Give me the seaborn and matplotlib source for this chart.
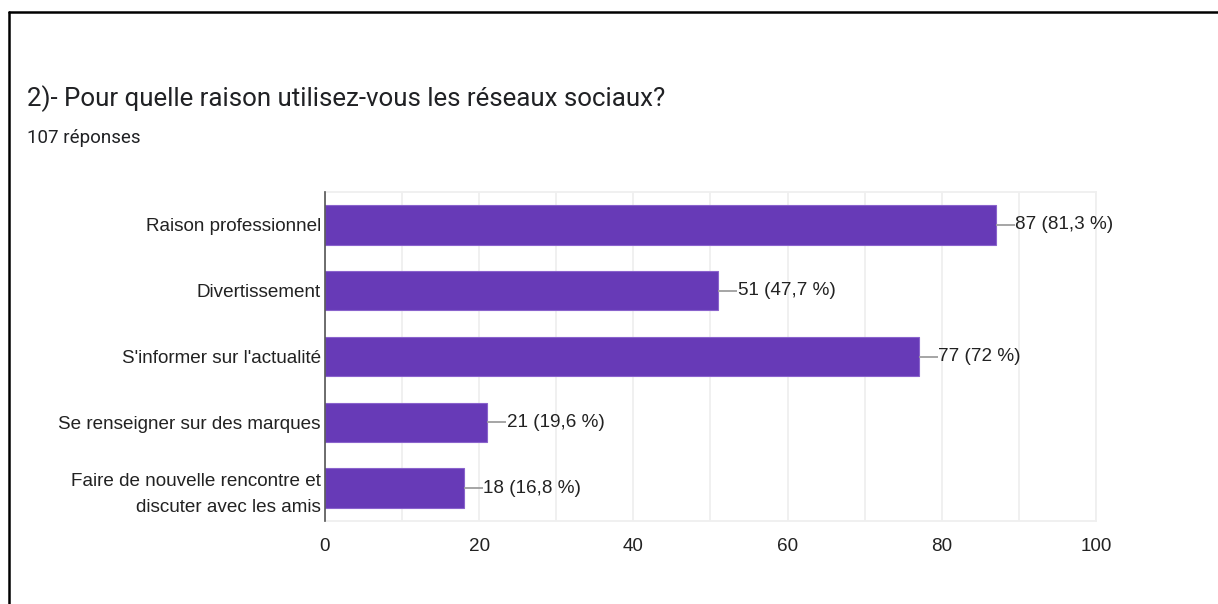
import matplotlib
matplotlib.use("Agg")
import matplotlib.pyplot as plt
from matplotlib.lines import Line2D
from matplotlib.ticker import MultipleLocator
import pandas as pd
import seaborn as sns

# Survey answers: "2)- Pour quelle raison utilisez-vous les réseaux sociaux?"
categories = [
    "Raison professionnel",
    "Divertissement",
    "S'informer sur l'actualité",
    "Se renseigner sur des marques",
    "Faire de nouvelle rencontre et\ndiscuter avec les amis",
]
counts = [87, 51, 77, 21, 18]
total_responses = 107
x_ticks = [0, 20, 40, 60, 80, 100]

title_text = "2)- Pour quelle raison utilisez-vous les réseaux sociaux?"
subtitle_text = f"{total_responses} réponses"

PURPLE = "#673ab7"
TEXT = "#222222"
GRID = "#efefef"


def pct_label(n, total):
    p = round(n / total * 100, 1)
    s = f"{p:.1f}".rstrip("0").rstrip(".").replace(".", ",")
    return f"{n} ({s} %)"


df = pd.DataFrame({"raison": categories, "n": counts})

sns.set_theme(style="white")
plt.rcParams["font.family"] = ["Liberation Sans", "DejaVu Sans"]

fig = plt.figure(figsize=(12.18, 6.04), dpi=100)
ax = fig.add_axes([0.2668, 0.1374, 0.8998 - 0.2668, 0.6821 - 0.1374])

sns.barplot(data=df, x="n", y="raison", orient="h", color=PURPLE,
            saturation=1, width=0.6, ax=ax, zorder=3,
            edgecolor="#8a63cc", linewidth=0.8)

ax.set_xlim(0, 100)
ax.set_ylim(len(categories) - 0.5, -0.5)
ax.set_xticks(x_ticks)
ax.xaxis.set_minor_locator(MultipleLocator(10))
ax.grid(True, axis="x", which="both", color=GRID, linewidth=1.3, zorder=0)
ax.set_xlabel("")
ax.set_ylabel("")
ax.tick_params(axis="both", length=0, labelsize=13.6, colors=TEXT)
ax.tick_params(axis="y", pad=3)
ax.tick_params(axis="x", pad=12)
for lab in ax.get_yticklabels():
    lab.set_horizontalalignment("right")
    lab.set_linespacing(1.65)

for side in ["top", "right", "bottom"]:
    ax.spines[side].set_color(GRID)
    ax.spines[side].set_linewidth(1.3)
ax.spines["left"].set_color("#555555")
ax.spines["left"].set_linewidth(1.2)
ax.spines["left"].set_zorder(4)

# value labels with short leader lines
for i, n in enumerate(counts):
    ax.plot([n, n + 2.5], [i, i], color="#9e9e9e", linewidth=1.3,
            zorder=4, solid_capstyle="butt")
    ax.text(n + 2.55, i, pct_label(n, total_responses), va="center",
            ha="left", fontsize=13.6, color=TEXT)

fig.text(27 / 1218, 1 - 99 / 604, title_text, fontsize=18.6, color="#202124",
         family=["Roboto", "DejaVu Sans"], va="center", ha="left")
fig.text(27 / 1218, 1 - 138 / 604, subtitle_text, fontsize=13.5,
         color="#202124", family=["Roboto", "DejaVu Sans"],
         va="center", ha="left")

# page frame (left and top edges)
fig.add_artist(Line2D([9 / 1218, 9 / 1218], [0, 1 - 12 / 604],
                      transform=fig.transFigure, color="black", linewidth=1.8))
fig.add_artist(Line2D([9 / 1218, 1], [1 - 12 / 604, 1 - 12 / 604],
                      transform=fig.transFigure, color="black", linewidth=1.8))

fig.savefig("out.png", dpi=100, facecolor="white")
